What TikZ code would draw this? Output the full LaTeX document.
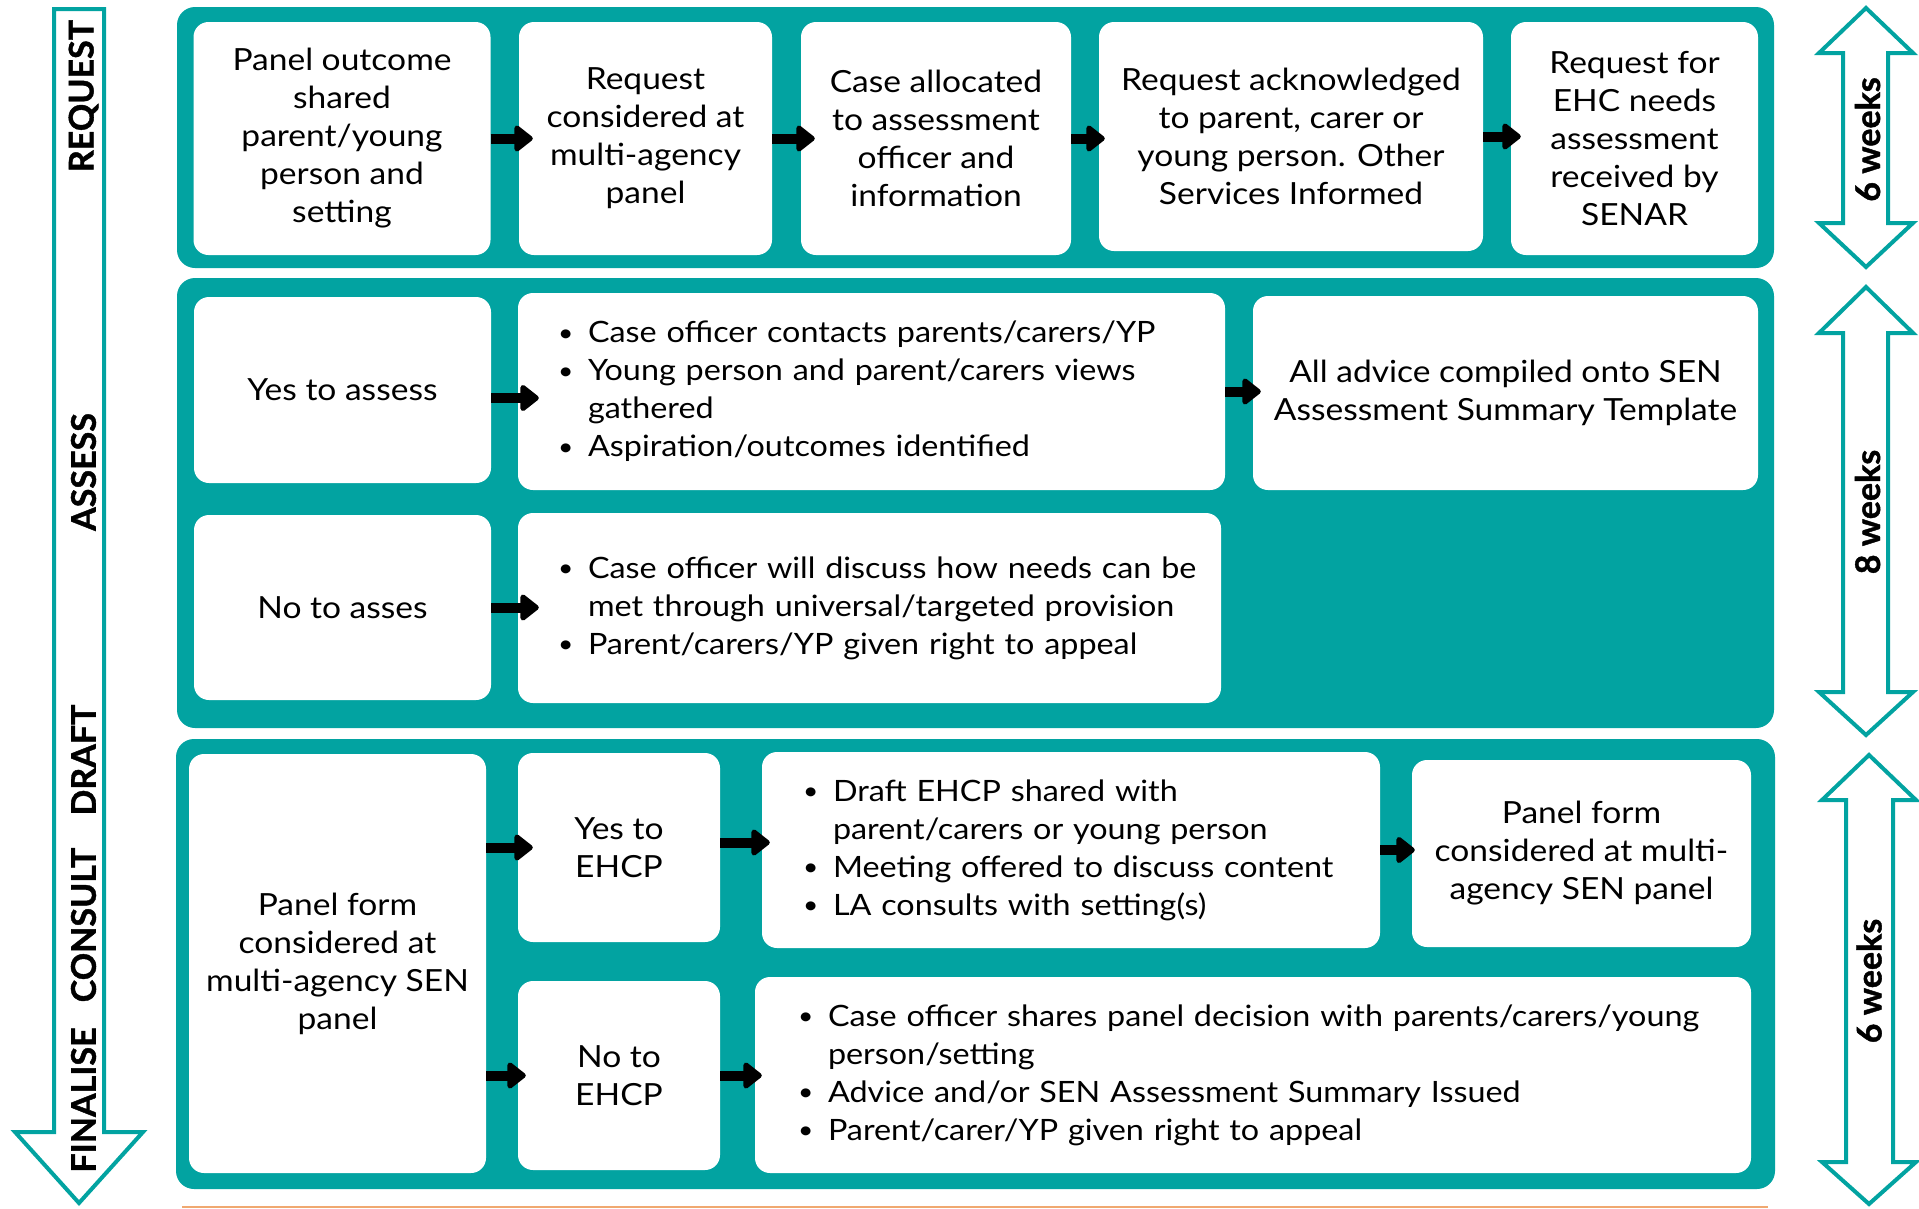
\documentclass[tikz,border=0pt]{standalone}
\usepackage{fontspec}
\setmainfont[FakeStretch=1.1]{Lato}
\newfontfamily\labfont[BoldFeatures={FakeBold=1.2}]{Lato}
\usetikzlibrary{arrows.meta}
\definecolor{teal1}{RGB}{2,163,161}
\definecolor{orng}{RGB}{240,168,112}
\newcommand\blitem[1]{\mbox{\makebox[30pt][l]{\raisebox{1.5pt}{\fontsize{24}{24}\selectfont\textbullet}}#1}}
\newcommand\blcont[1]{\mbox{\hspace*{30pt}#1}}
\begin{document}
\begin{tikzpicture}[x=1pt,y=-1pt,
  tealpanel/.style={fill=teal1, rounded corners=18pt, draw=none, inner sep=0pt},
  wbox/.style={fill=white, rounded corners=15pt, draw=none, inner sep=4pt, align=center,
    font=\fontsize{30.5}{38}\selectfont, text=black},
  blist/.style={wbox, align=left, inner xsep=40pt, font=\fontsize{29.4}{38}\selectfont},
  lab/.style={font=\labfont\fontsize{34}{38}\selectfont\bfseries, rotate=90, inner sep=0pt, text=black},
  tarrow/.style={draw=teal1, line width=4pt, fill=white, line join=miter},
  arr/.style={black, line width=10pt, -{Triangle[length=20pt,width=30pt,line width'=5pt,round]}},
  orline/.style={draw=orng, line width=2pt}
]
\useasboundingbox (0,0) rectangle (1919,1208);

% panels
\node[tealpanel, minimum width=1597pt, minimum height=261pt] (P1) at (975.5,137.5) {};
\node[tealpanel, minimum width=1597pt, minimum height=450pt] (P2) at (975.5,503) {};
\node[tealpanel, minimum width=1599pt, minimum height=450pt] (P3) at (975.5,964) {};

% bottom orange rule
\coordinate (oL) at (182,1207);
\coordinate (oR) at (1768,1207);
\draw[orline] (oL) -- (oR);

% left stage arrow
\draw[tarrow] (54,9) -- (104,9) -- (104,1132) -- (143,1132) -- (79,1203) -- (15,1132) -- (54,1132) -- cycle;

% right duration arrows
\draw[tarrow] (1866,8) -- (1913,53) -- (1888,53) -- (1888,223) -- (1913,223) -- (1866,267) -- (1819,223) -- (1843,223) -- (1843,53) -- (1819,53) -- cycle;
\draw[tarrow] (1866,287) -- (1913,333) -- (1888,333) -- (1888,692) -- (1913,692) -- (1866,735) -- (1819,692) -- (1843,692) -- (1843,333) -- (1819,333) -- cycle;
\draw[tarrow] (1869,755) -- (1916,800) -- (1893,800) -- (1893,1162) -- (1916,1162) -- (1869,1204) -- (1822,1162) -- (1846,1162) -- (1846,800) -- (1822,800) -- cycle;

% stage labels
\node[lab] (tREQ) at (83.5,96) {REQUEST};
\node[lab] (tASS) at (83.5,472) {ASSESS};
\node[lab] (tDRA) at (83.5,760) {DRAFT};
\node[lab] (tCON) at (83.5,925) {CONSULT};
\node[lab] (tFIN) at (83.5,1100) {FINALISE};
\node[lab] (w1) at (1867.5,139.5) {6 weeks};
\node[lab] (w2) at (1867.5,512) {8 weeks};
\node[lab] (w3) at (1869,981) {6 weeks};

% row 1
\node[wbox, minimum width=297pt, minimum height=233pt] (A) at (342,138.5)
  {Panel outcome\\shared\\parent/young\\person and\\setting};
\node[wbox, minimum width=253pt, minimum height=233pt] (B) at (645.5,138.5)
  {Request\\considered at\\multi-agency\\panel};
\node[wbox, minimum width=270pt, minimum height=233pt] (C) at (936,138.5)
  {Case allocated\\to assessment\\officer and\\information};
\node[wbox, minimum width=384pt, minimum height=229pt] (D) at (1291,136.5)
  {Request acknowledged\\to parent, carer or\\young person. Other\\Services Informed};
\node[wbox, minimum width=247pt, minimum height=233pt] (E) at (1634.5,138.5)
  {Request for\\EHC needs\\assessment\\received by\\SENAR};

% row 2
\node[wbox, minimum width=297pt, minimum height=186pt] (YA) at (342.5,390) {Yes to assess};
\node[blist, minimum width=707pt, minimum height=197pt, text width=627pt] (B1) at (871.5,391.5)
  {\blitem{Case officer contacts parents/carers/YP}\\
   \blitem{Young person and parent/carers views}\\
   \blcont{gathered}\\
   \blitem{Aspiration/outcomes identified}};
\node[wbox, minimum width=505pt, minimum height=194pt] (AA) at (1505.5,393)
  {All advice compiled onto SEN\\Assessment Summary Template};
\node[wbox, minimum width=297pt, minimum height=185pt] (NA) at (342.5,607.5) {No to asses};
\node[blist, minimum width=703pt, minimum height=190pt, text width=623pt] (B2) at (869.5,608)
  {\blitem{Case officer will discuss how needs can be}\\
   \blcont{met through universal/targeted provision}\\
   \blitem{Parent/carers/YP given right to appeal}};

% row 3
\node[wbox, minimum width=297pt, minimum height=419pt] (PF) at (337.5,963.5)
  {Panel form\\considered at\\multi-agency SEN\\panel};
\node[wbox, minimum width=202pt, minimum height=189pt] (YE) at (619,847.5) {Yes to\\EHCP};
\node[blist, inner xsep=41pt, minimum width=618pt, minimum height=196pt, text width=536pt] (B3) at (1071,850)
  {\blitem{Draft EHCP shared with}\\
   \blcont{parent/carers or young person}\\
   \blitem{Meeting offered to discuss content}\\
   \blitem{LA consults with setting(s)}};
\node[wbox, minimum width=339pt, minimum height=187pt] (PR) at (1581.5,853.5)
  {Panel form\\considered at multi-\\agency SEN panel};
\node[wbox, minimum width=202pt, minimum height=189pt] (NE) at (619,1075.5) {No to\\EHCP};
\node[blist, inner xsep=43pt, minimum width=996pt, minimum height=196pt, text width=910pt] (B4) at (1253,1075)
  {\blitem{Case officer shares panel decision with parents/carers/young}\\
   \blcont{person/setting}\\
   \blitem{Advice and/or SEN Assessment Summary Issued}\\
   \blitem{Parent/carer/YP given right to appeal}};

% connectors
\draw[arr, shorten >=-14pt] (A.east) -- (B.west);
\draw[arr, shorten >=-14pt] (B.east) -- (C.west);
\draw[arr, shorten >=-6pt] (C.east) -- (C.east -| D.west);
\draw[arr, shorten >=-10pt] (D.east) -- (D.east -| E.west);
\draw[arr, shorten >=-21pt] ([yshift=-8pt]YA.east) -- ([yshift=-8pt]YA.east -| B1.west);
\draw[arr, shorten >=-8pt] (B1.east) -- (B1.east -| AA.west);
\draw[arr, shorten >=-21pt] (NA.east) -- (NA.east -| B2.west);
\draw[arr, shorten >=-15pt] (PF.east |- YE.west) -- (YE.west);
\draw[arr, shorten >=-8pt] ([yshift=5pt]YE.east) -- ([yshift=5pt]YE.east -| B3.west);
\draw[arr, shorten >=-3pt] (B3.east) -- (B3.east -| PR.west);
\draw[arr, shorten >=-8pt] (PF.east |- NE.west) -- (NE.west);
\draw[arr, shorten >=-7pt] (NE.east) -- (NE.east -| B4.west);
\end{tikzpicture}
\end{document}
